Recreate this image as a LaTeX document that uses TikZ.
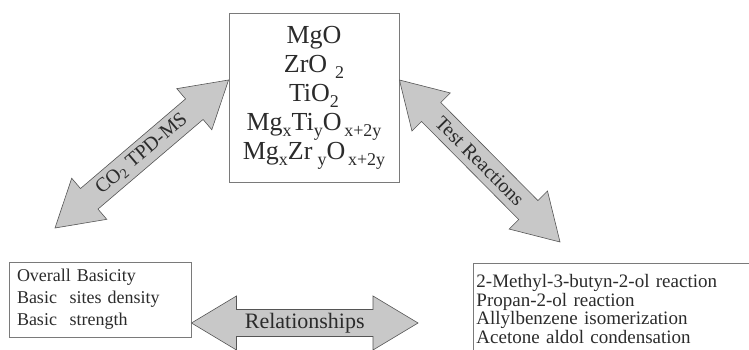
\documentclass[tikz,border=0pt]{standalone}
\usepackage{fontspec}
\setmainfont{Liberation Serif}
\usepackage{tikz}
\usetikzlibrary{calc,positioning}
\definecolor{catInk}{HTML}{2B2B2B}
\definecolor{catFill}{HTML}{C8C8C8}
\definecolor{catEdge}{HTML}{555555}
\definecolor{catLine}{HTML}{7A7A7A}
\tikzset{
    oxidebox/.style={draw=catLine, line width=0.9pt, align=center, text=catInk, minimum width=170pt, minimum height=169pt, inner sep=0pt, font=\fontsize{26}{29}\selectfont},
    basicbox/.style={draw=catLine, line width=0.9pt, align=left, text=catInk, text width=166pt, inner xsep=8pt, inner ysep=0pt, minimum height=75pt, font=\fontsize{18}{22}\selectfont},
    testbox/.style={draw=catLine, line width=0.9pt, align=left, text=catInk, text width=290pt, inner xsep=3pt, inner ysep=0pt, minimum height=91pt, font=\fontsize{19}{18.5}\selectfont},
    fatarrow/.style={draw=catEdge, line width=0.6pt, fill=catFill, line join=miter},
    arrowlabel/.style={text=catInk, inner sep=0pt, font=\fontsize{20}{22}\selectfont}
}
% lowered index in the oxide formulas
\newcommand{\lowidx}[1]{\raisebox{-0.24em}{\fontsize{18}{18}\selectfont #1}}
% double block arrow between two named points, label along it
\newcommand{\fatarrow}[4][]{%
  \coordinate (fa-s) at ($(#2)!45pt!(#3)$);
  \coordinate (fa-e) at ($(#3)!45pt!(#2)$);
  \draw[fatarrow] (#2)
    -- ($(fa-s)!27pt!90:(#2)$) -- ($(fa-s)!13.5pt!90:(#2)$)
    -- ($(fa-e)!13.5pt!-90:(#3)$) -- ($(fa-e)!27pt!-90:(#3)$)
    -- (#3)
    -- ($(fa-e)!27pt!90:(#3)$) -- ($(fa-e)!13.5pt!90:(#3)$)
    -- ($(fa-s)!13.5pt!-90:(#2)$) -- ($(fa-s)!27pt!-90:(#2)$)
    -- cycle;
  \path (#2) -- (#3) node[midway, sloped, arrowlabel, #1] {#4};
}

\begin{document}
\begin{tikzpicture}[x=1pt, y=-1pt]
\useasboundingbox (0,0) rectangle (749,350);
\clip (0,0) rectangle (749,350);

% boxes
\node[oxidebox] (oxides) at (314,97.5) {MgO\\ ZrO\hspace{0.3em}\lowidx{2}\\ TiO\lowidx{2}\\
  Mg\lowidx{x}Ti\lowidx{y}O\hspace{0.1em}\lowidx{x+2y}\\
  Mg\lowidx{x}Zr\hspace{0.2em}\lowidx{y}O\hspace{0.1em}\lowidx{x+2y}};
\node[basicbox] (basics) at (100,299.5) {Overall Basicity\\ Basic\hspace{0.7em}sites density\\ Basic\hspace{0.7em}strength};
\node[testbox, anchor=north west] (tests) at (473,263) {2-Methyl-3-butyn-2-ol reaction\\ Propan-2-ol reaction\\
  Allylbenzene isomerization\\ Acetone aldol condensation};

% arrow ends
\coordinate (tpdlo) at (55,228);
\coordinate (tpdhi) at (oxides.west |- 0,80);
\coordinate (testhi) at (oxides.east |- 0,80);
\coordinate (testlo) at (560,242);
\coordinate (relL) at (basics.east |- 0,323);
\coordinate (relR) at (418,323);

% arrows
\fatarrow{tpdlo}{tpdhi}{CO\textsubscript{2} TPD-MS}
\fatarrow{testhi}{testlo}{Test Reactions}
\fatarrow[font=\fontsize{22}{24}\selectfont]{relL}{relR}{Relationships}
\end{tikzpicture}
\end{document}
